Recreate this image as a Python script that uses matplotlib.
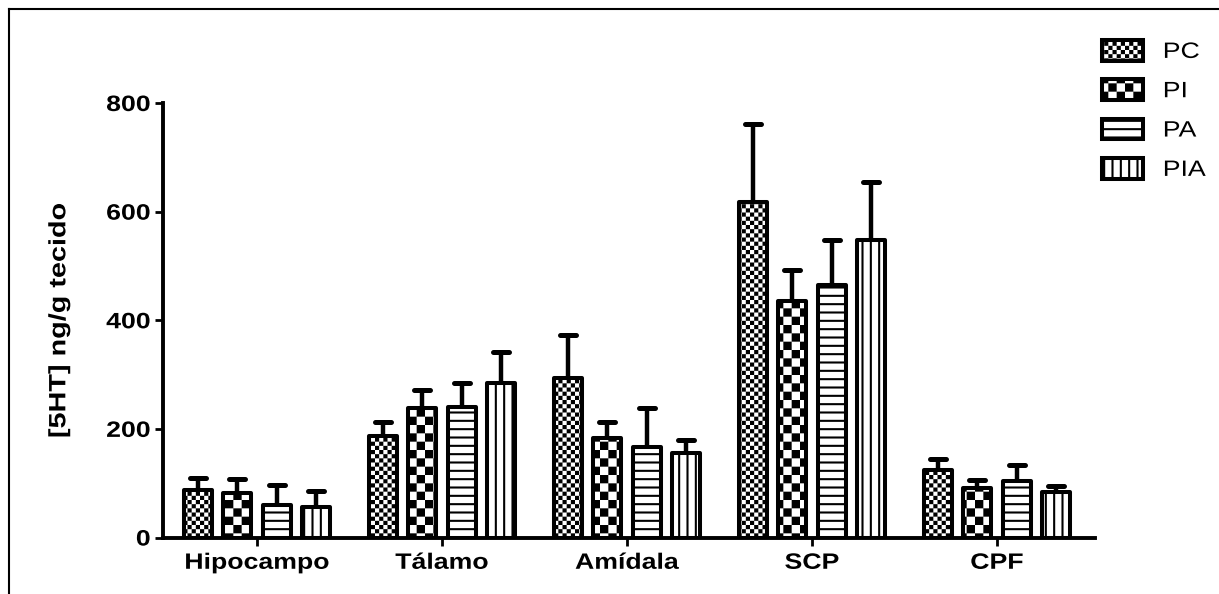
import warnings
import numpy as np
import matplotlib
matplotlib.use("Agg")
import matplotlib.pyplot as plt
import matplotlib.hatch as mhatch
from matplotlib.path import Path
from matplotlib.lines import Line2D
from matplotlib.markers import MarkerStyle
from matplotlib.patheffects import AbstractPathEffect
from matplotlib.transforms import Affine2D

warnings.filterwarnings("ignore")

# ---------------- data ----------------
regions = ["Hipocampo", "Tálamo", "Amídala", "SCP", "CPF"]
groups = ["PC", "PI", "PA", "PIA"]
pc_mean = [88, 187, 293, 617, 125]
pi_mean = [82, 238, 183, 435, 92]
pa_mean = [60, 240, 167, 465, 104]
pia_mean = [57, 285, 155, 547, 83]
pc_err = [22, 26, 80, 145, 20]
pi_err = [25, 34, 29, 57, 14]
pa_err = [36, 45, 71, 83, 30]
pia_err = [29, 57, 25, 107, 11]
yticks = [0, 200, 400, 600, 800]

means = [pc_mean, pi_mean, pa_mean, pia_mean]
errs = [pc_err, pi_err, pa_err, pia_err]

# ---------------- custom checkerboard hatch ----------------
HATCH_LW_PT = 1.5
DPI = 100


class Checker(mhatch.HatchPatternBase):
    def __init__(self, hatch, density):
        self.n = 0
        if 'c' in hatch:
            self.n = 24
        elif 'k' in hatch:
            self.n = 12
        self.num_vertices = (self.n * self.n // 2) * 5 if self.n else 0

    def set_vertices_and_codes(self, vertices, codes):
        n = self.n
        cell = 1.0 / n
        shrink = (HATCH_LW_PT / 72.0 * DPI) / DPI
        side = max(cell - shrink, cell * 0.2)
        off = (cell - side) / 2
        k = 0
        for i in range(n):
            for j in range(n):
                if (i + j) % 2 == 0:
                    x0 = i * cell + off
                    y0 = j * cell + off
                    vertices[k:k + 5] = [[x0, y0], [x0 + side, y0],
                                         [x0 + side, y0 + side],
                                         [x0, y0 + side], [x0, y0]]
                    codes[k:k + 5] = [Path.MOVETO, Path.LINETO, Path.LINETO,
                                      Path.LINETO, Path.CLOSEPOLY]
                    k += 5


mhatch._hatch_types.append(Checker)


class Stretch(AbstractPathEffect):
    """Widen text along its baseline (the reference's text is stretched)."""

    def __init__(self, s, anchor='center', axis='x'):
        super().__init__()
        self.s = s
        self.anchor = anchor
        self.axis = axis

    def draw_path(self, renderer, gc, tpath, affine, rgbFace=None):
        ext = tpath.get_extents(affine)
        if self.axis == 'x':
            if self.anchor == 'left':
                c = ext.x0
            elif self.anchor == 'right':
                c = ext.x1
            else:
                c = 0.5 * (ext.x0 + ext.x1)
            extra = Affine2D().translate(-c, 0).scale(self.s, 1).translate(c, 0)
        else:
            c = 0.5 * (ext.y0 + ext.y1)
            extra = Affine2D().translate(0, -c).scale(1, self.s).translate(0, c)
        renderer.draw_path(gc, tpath, affine + extra, rgbFace)


SX = 1.2

plt.rcParams['font.family'] = ['Liberation Sans', 'DejaVu Sans']
plt.rcParams['hatch.linewidth'] = HATCH_LW_PT
plt.rcParams['hatch.color'] = 'black'

W, H = 1219, 594
fig = plt.figure(figsize=(W / DPI, H / DPI), dpi=DPI)
ax = fig.add_axes([163 / W, 1 - 537.5 / H, (1095 - 163) / W, (537.5 - 103) / H])

hatches = ['c', 'k', '--', '||']
x = np.arange(len(regions))
pitch = 0.2135
width = 0.150
offsets = (np.arange(len(groups)) - 1.5) * pitch

for g in range(len(groups)):
    xs = x + offsets[g]
    eb = ax.errorbar(xs, means[g], yerr=[np.zeros(len(regions)), errs[g]],
                     fmt='none', ecolor='black', elinewidth=3.2,
                     capsize=5.8, capthick=3.6, zorder=1)
    for cl in eb[1]:
        cl.set_marker(MarkerStyle('_', capstyle='round'))
    ax.bar(xs, means[g], width=width, color='white', edgecolor='black',
           linewidth=2.9, hatch=hatches[g], label=groups[g],
           joinstyle='round', zorder=2)

ax.set_xlim(-0.508, len(regions) - 1 + 0.53)
ax.set_ylim(0, 800)
ax.set_yticks(yticks)
ax.set_xticks(x)
ax.set_xticklabels(regions)
for s in ['top', 'right']:
    ax.spines[s].set_visible(False)
for s in ['left', 'bottom']:
    ax.spines[s].set_linewidth(2.8)
    ax.spines[s].set_zorder(3)
ax.tick_params(axis='both', direction='out', length=6, width=2,
               labelsize=16, pad=3)
ax.tick_params(axis='x', pad=5)
for lbl in ax.get_xticklabels():
    lbl.set_fontweight('bold')
    lbl.set_path_effects([Stretch(SX, 'center')])
for lbl in ax.get_yticklabels():
    lbl.set_fontweight('bold')
    lbl.set_path_effects([Stretch(SX, 'right')])
ylab = ax.set_ylabel("[5HT] ng/g tecido", fontsize=17, fontweight='bold',
                     labelpad=31)
ylab.set_path_effects([Stretch(1.22, 'center', axis='y')])

leg = fig.legend(loc='upper left', bbox_to_anchor=(1102 / W, 1 - 40 / H),
                 frameon=False, fontsize=16, handlelength=1.85,
                 handleheight=1.05, handletextpad=0.9, labelspacing=0.74,
                 borderpad=0, borderaxespad=0)
for t in leg.get_texts():
    t.set_path_effects([Stretch(SX, 'left')])

# figure frame (left and top edges visible)
fig.add_artist(Line2D([8.5 / W, 8.5 / W], [0, 1 - 8.5 / H], color='black',
                      linewidth=1.5, transform=fig.transFigure))
fig.add_artist(Line2D([8.5 / W, 1], [1 - 8.5 / H, 1 - 8.5 / H], color='black',
                      linewidth=1.5, transform=fig.transFigure))

fig.savefig("out.png", dpi=DPI)
